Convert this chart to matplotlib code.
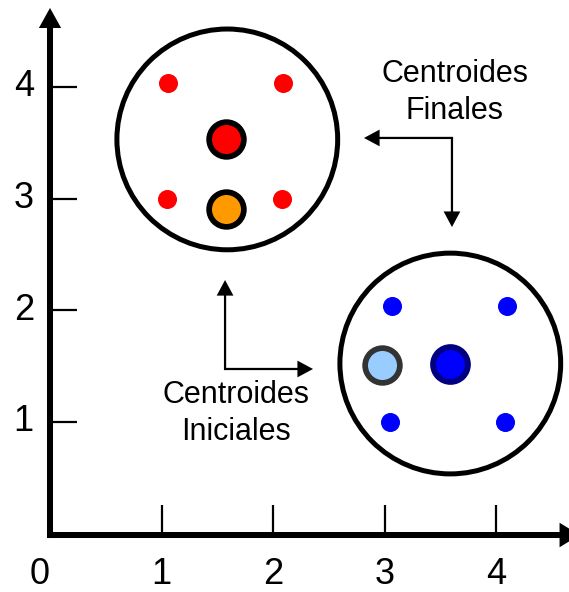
import matplotlib
matplotlib.use("Agg")
import matplotlib.pyplot as plt
from matplotlib.patches import Circle

plt.rcParams["font.family"] = ["Liberation Sans", "DejaVu Sans"]

# cluster members
red_x = [1.06, 2.09, 1.05, 2.08]
red_y = [4.04, 4.04, 3.00, 3.00]
blue_x = [3.07, 4.10, 3.05, 4.08]
blue_y = [2.04, 2.04, 1.00, 1.00]

# centroids (initial / final)
init_red = (1.58, 2.91)
final_red = (1.58, 3.53)
init_blue = (2.98, 1.51)
final_blue = (3.59, 1.52)

# cluster outlines: center x, center y, radius
cluster_cx = [1.59, 3.59]
cluster_cy = [3.53, 1.52]
cluster_r = [0.99, 0.99]

tick_vals = [1, 2, 3, 4]
tick_labels = ["1", "2", "3", "4"]

unit = 111.5  # pixels per data unit
W, H = 569, 592
x0_px, y0_px = 50, 533

fig = plt.figure(figsize=(W / 100, H / 100), dpi=100)
ax = fig.add_axes([0, 0, 1, 1])
ax.set_xlim(-x0_px / unit, (W - x0_px) / unit)
ax.set_ylim((y0_px - H) / unit, y0_px / unit)
ax.axis("off")

# axes with arrows
axis_y = -0.018
aw = 0.054
ax.arrow(-aw / 2, axis_y, 4.75 + aw / 2, 0, width=aw, head_width=0.22, head_length=0.18,
         length_includes_head=True, color="black", lw=0)
ax.arrow(0, axis_y - aw / 2, 0, 4.709 - axis_y + aw / 2, width=aw, head_width=0.2, head_length=0.18,
         length_includes_head=True, color="black", lw=0)

for t, lab in zip(tick_vals, tick_labels):
    ax.plot([t, t], [axis_y, axis_y + 0.27], color="black", lw=1.6, solid_capstyle="butt")
    ax.plot([0, 0.24], [t, t], color="black", lw=1.6, solid_capstyle="butt")
    ax.text(t, -0.375, lab, ha="center", va="center", fontsize=26)
    ax.text(-0.235, t, lab, ha="center", va="center", fontsize=26)
ax.text(-0.09, -0.375, "0", ha="center", va="center", fontsize=26)

# cluster circles
for cx, cy, r in zip(cluster_cx, cluster_cy, cluster_r):
    ax.add_patch(Circle((cx, cy), r, fill=False, ec="black", lw=3.6))

ax.plot(red_x, red_y, "o", color="#ff0000", ms=13.7, mew=0)
ax.plot(blue_x, blue_y, "o", color="#0000ff", ms=13.7, mew=0)

ax.plot(*final_red, "o", mfc="#ff0000", mec="black", ms=25, mew=4.1)
ax.plot(*init_red, "o", mfc="#ff9900", mec="black", ms=25, mew=4.1)
ax.plot(*final_blue, "o", mfc="#0000ff", mec="#000080", ms=25, mew=4.3)
ax.plot(*init_blue, "o", mfc="#99ccff", mec="#333333", ms=25, mew=4.1)

# annotation arrows
sw = 0.02
# final centroids
fc = (3.605, 3.543)
ax.arrow(fc[0] + sw / 2, fc[1], 2.816 - fc[0] - sw / 2, 0, width=sw, head_width=0.15,
         head_length=0.14, length_includes_head=True, color="black", lw=0)
ax.arrow(fc[0], fc[1], 0, 2.744 - fc[1], width=sw, head_width=0.15,
         head_length=0.14, length_includes_head=True, color="black", lw=0)
ax.text(3.63, 3.95, "Centroides\nFinales", ha="center", va="center", fontsize=22,
        linespacing=1.3)

# initial centroids
ic = (1.570, 1.471)
ax.arrow(ic[0], ic[1] - sw / 2, 0, 2.269 - ic[1] + sw / 2, width=sw, head_width=0.15,
         head_length=0.14, length_includes_head=True, color="black", lw=0)
ax.arrow(ic[0], ic[1], 2.359 - ic[0], 0, width=sw, head_width=0.15,
         head_length=0.14, length_includes_head=True, color="black", lw=0)
ax.text(1.668, 1.075, "Centroides\nIniciales", ha="center", va="center", fontsize=22,
        linespacing=1.3)

plt.savefig("out.png", dpi=100)
